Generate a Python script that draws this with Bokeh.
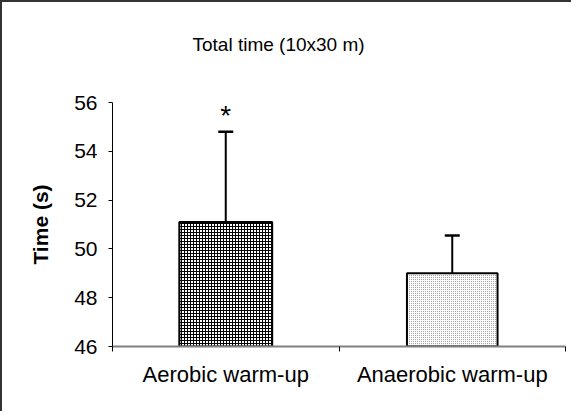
from bokeh.plotting import figure
from bokeh.models import Range1d, FixedTicker, Whisker, TeeHead, ColumnDataSource
from bokeh.core.properties import value
from bokeh.embed import file_html
from bokeh.resources import INLINE

# ---- data ----
groups = ["Aerobic warm-up", "Anaerobic warm-up"]
means = [51.1, 49.0]
sds = [3.7, 1.55]
marks = ["*", ""]
y_ticks = [46, 48, 50, 52, 54, 56]
title_text = "Total time (10x30 m)"
y_label = "Time (s)"

FONT = "Liberation Sans"
xs = [i + 0.5 for i in range(len(groups))]

p = figure(width=571, height=411, output_backend="svg", toolbar_location=None,
           x_range=Range1d(0, len(groups)), y_range=Range1d(46, 56),
           min_border_left=110, min_border_right=8, min_border_top=100, min_border_bottom=67,
           title=title_text + "\n")
p.outline_line_color = None
p.grid.visible = False
p.background_fill_color = "white"
p.border_fill_color = "white"
p.styles = {"border-top": "2px solid #333333", "border-left": "2px solid #333333"}

p.title.text_font = FONT
p.title.text_font_size = "19px"
p.title.text_font_style = "normal"
p.title.text_color = "black"
p.title.align = "left"
p.title.offset = 80
p.title.standoff = 54

src = ColumnDataSource(dict(x=xs, top=means, upper=[m + s for m, s in zip(means, sds)],
                            mark=marks))

# bars
p.vbar(x=[xs[0]], top=[means[0]], bottom=46, width=0.41, fill_color="white",
       hatch_pattern="+", hatch_scale=3, hatch_weight=1, hatch_color="black",
       line_color="black", line_width=2)
p.vbar(x=[xs[1]], top=[means[1]], bottom=46, width=0.40, fill_color="white",
       hatch_pattern=".", hatch_scale=2, hatch_weight=1, hatch_color="#8a8a8a",
       line_color="black", line_width=2)

# error bars
w = Whisker(base="x", upper="upper", lower="top", source=src, line_width=2, line_color="black",
            upper_head=TeeHead(size=15, line_width=2.5, line_color="black"), lower_head=None)
p.add_layout(w)

p.text(x="x", y="upper", text="mark", source=src, text_align="center", text_baseline="middle",
       y_offset=-16, text_font=value(FONT), text_font_size="28px", text_color="black")

# y axis
ya = p.yaxis[0]
ya.ticker = FixedTicker(ticks=y_ticks)
ya.axis_label = y_label
ya.axis_label_text_font = FONT
ya.axis_label_text_font_style = "bold"
ya.axis_label_text_font_size = "21px"
ya.axis_label_text_color = "black"
ya.axis_label_standoff = 19
ya.major_label_text_font = FONT
ya.major_label_text_font_size = "21px"
ya.major_label_text_color = "black"
ya.major_label_standoff = 11
ya.major_tick_in = 0
ya.major_tick_out = 4
ya.minor_tick_line_color = None
ya.axis_line_color = "black"
ya.major_tick_line_color = "black"

# x axis
xa = p.xaxis[0]
xa.ticker = FixedTicker(ticks=xs, minor_ticks=list(range(len(groups) + 1)))
xa.major_label_overrides = {x: g for x, g in zip(xs, groups)}
xa.major_label_text_font = FONT
xa.major_label_text_font_size = "22px"
xa.major_label_text_color = "black"
xa.major_label_standoff = 10
xa.major_tick_line_color = None
xa.major_tick_in = 0
xa.major_tick_out = 0
xa.minor_tick_in = 0
xa.minor_tick_out = 5
xa.minor_tick_line_color = "black"
xa.axis_line_color = "#808080"
xa.axis_line_width = 2

open("out.html", "w").write(file_html(p, INLINE))
